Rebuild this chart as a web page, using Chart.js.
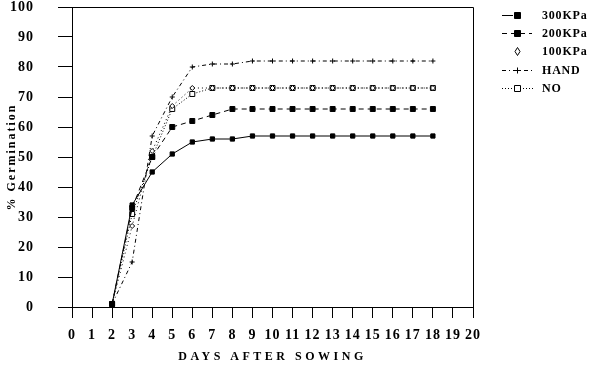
<!DOCTYPE html>
<html>
<head>
<meta charset="utf-8">
<script src="https://cdn.jsdelivr.net/npm/chart.js@4.4.1/dist/chart.umd.min.js"></script>
<style>
html,body{margin:0;padding:0;background:#fff;}
#wrap{width:599px;height:369px;position:relative;}
</style>
</head>
<body>
<div id="wrap"><canvas id="c" width="599" height="369"></canvas></div>
<script>
// ---- data ----
const days   = [2, 3, 4, 5, 6, 7, 8, 9, 10, 11, 12, 13, 14, 15, 16, 17, 18];
const kpa300 = [1, 34, 45, 51, 55, 56, 56, 57, 57, 57, 57, 57, 57, 57, 57, 57, 57];
const kpa200 = [1, 33, 50, 60, 62, 64, 66, 66, 66, 66, 66, 66, 66, 66, 66, 66, 66];
const kpa100 = [1, 27, 52, 67, 73, 73, 73, 73, 73, 73, 73, 73, 73, 73, 73, 73, 73];
const hand   = [1, 15, 57, 70, 80, 81, 81, 82, 82, 82, 82, 82, 82, 82, 82, 82, 82];
const noTreat= [1, 31, 50, 66, 71, 73, 73, 73, 73, 73, 73, 73, 73, 73, 73, 73, 73];
const seriesLabels = ['300KPa', '200KPa', '100KPa', 'HAND', 'NO'];
const xTitle = 'DAYS AFTER SOWING';
const yTitle = '% Germination';

const pts = arr => arr.map((v, i) => ({x: days[i], y: v}));
const FONT = "'Liberation Serif', 'Times New Roman', serif";

const styles = [
  {dash: [],            point: 'rect',    r: 3,   fill: '#000', legendLine: [-15, -4]},
  {dash: [5, 4],        point: 'rect',    r: 3.5, fill: '#000', legendLine: [-15, 15]},
  {dash: [1, 3],        point: 'rectRot', r: 2.5, fill: '#fff', legendLine: null},
  {dash: [4, 3, 1, 3],  point: 'cross',   r: 2.5, fill: '#000', legendLine: [-15, 18]},
  {dash: [1, 2],        point: 'rect',    r: 3.5, fill: '#fff', legendLine: [-15, 18]}
];
const seriesData = [kpa300, kpa200, kpa100, hand, noTreat];

const datasets = seriesData.map((d, i) => ({
  label: seriesLabels[i],
  data: pts(d),
  borderColor: '#000',
  borderWidth: 1,
  borderDash: styles[i].dash,
  pointStyle: styles[i].point,
  pointRadius: styles[i].r,
  pointBorderWidth: 1,
  pointBackgroundColor: styles[i].fill,
  pointBorderColor: '#000',
  fill: false,
  tension: 0
}));

const spacingPlugin = {
  id: 'spacing',
  beforeDraw(chart) {
    const ctx = chart.ctx;
    Object.values(chart.scales).forEach(s => {
      if (s._wrapped) return;
      s._wrapped = true;
      const dl = s.drawLabels.bind(s);
      const dt = s.drawTitle.bind(s);
      s.drawLabels = function(a) { ctx.save(); ctx.letterSpacing = '1px'; dl(a); ctx.restore(); };
      s.drawTitle = function(a) { ctx.save(); ctx.letterSpacing = (s.axis === 'x') ? '3.5px' : '2px'; dt(a); ctx.restore(); };
    });
  }
};

const framePlugin = {
  id: 'frame',
  afterDatasetsDraw(chart) {
    const {ctx, chartArea: a} = chart;
    ctx.save();
    ctx.strokeStyle = '#000';
    ctx.lineWidth = 1;
    ctx.setLineDash([]);
    ctx.beginPath();
    ctx.moveTo(a.left, a.top + 0.5);
    ctx.lineTo(a.right + 0.5, a.top + 0.5);
    ctx.lineTo(a.right + 0.5, a.bottom);
    ctx.stroke();
    ctx.restore();
  }
};

const legendPlugin = {
  id: 'customLegend',
  afterDraw(chart) {
    const {ctx, chartArea: a} = chart;
    ctx.save();
    const mx = a.right + 44, tx = a.right + 69;
    chart.data.datasets.forEach((ds, i) => {
      const y = Math.round(a.top + 8 + i * 18.2);
      const st = styles[i];
      if (st.legendLine) {
        ctx.strokeStyle = '#000';
        ctx.lineWidth = 1;
        ctx.setLineDash(st.dash.length ? st.dash : []);
        ctx.beginPath();
        ctx.moveTo(mx + st.legendLine[0], y + 0.5);
        ctx.lineTo(mx + st.legendLine[1], y + 0.5);
        ctx.stroke();
      }
      ctx.setLineDash([]);
      ctx.lineWidth = 1;
      ctx.fillStyle = st.fill;
      ctx.strokeStyle = '#000';
      ctx.beginPath();
      if (st.point === 'rect') { ctx.rect(mx - 2.5, y - 2.5, 6, 6); ctx.fill(); ctx.stroke(); }
      else if (st.point === 'rectRot') { ctx.moveTo(mx + 0.5, y - 3.5); ctx.lineTo(mx + 3, y + 0.5); ctx.lineTo(mx + 0.5, y + 4.5); ctx.lineTo(mx - 2, y + 0.5); ctx.closePath(); ctx.fill(); ctx.stroke(); }
      else { ctx.moveTo(mx - 2.5, y + 0.5); ctx.lineTo(mx + 3.5, y + 0.5); ctx.moveTo(mx + 0.5, y - 2.5); ctx.lineTo(mx + 0.5, y + 3.5); ctx.stroke(); }
      ctx.fillStyle = '#000';
      ctx.font = 'bold 12px ' + FONT;
      ctx.letterSpacing = '0.8px';
      ctx.textAlign = 'left';
      ctx.textBaseline = 'middle';
      ctx.fillText(ds.label, tx, y + 1);
    });
    ctx.restore();
  }
};

new Chart(document.getElementById('c'), {
  type: 'line',
  data: {datasets},
  options: {
    responsive: false,
    animation: false,
    events: [],
    clip: false,
    layout: {padding: {left: 0, top: 7, right: 126, bottom: 0}},
    plugins: {legend: {display: false}, tooltip: {enabled: false}, title: {display: false}},
    scales: {
      x: {
        type: 'linear', min: 0, max: 20,
        afterFit(s) { s.height = 62; s.paddingLeft = 0; s.paddingRight = 0; },
        ticks: {stepSize: 1, color: '#000', padding: 9, maxRotation: 0, autoSkip: false,
                font: {family: FONT, size: 14, weight: 'bold'}},
        grid: {display: true, drawOnChartArea: false, drawTicks: true, tickLength: 11, color: '#000', tickColor: '#000', tickWidth: 1},
        border: {display: true, color: '#000', width: 1},
        title: {display: true, text: xTitle, color: '#000', padding: {top: 0, bottom: 5},
                font: {family: FONT, size: 12, weight: 'bold'}}
      },
      y: {
        type: 'linear', min: 0, max: 100,
        afterFit(s) { s.width = 72; s.paddingTop = 0; s.paddingBottom = 0; },
        ticks: {stepSize: 10, color: '#000', padding: 24,
                font: {family: FONT, size: 14, weight: 'bold'}},
        grid: {display: true, drawOnChartArea: false, drawTicks: true, tickLength: 14, color: '#000', tickColor: '#000', tickWidth: 1},
        border: {display: true, color: '#000', width: 1},
        title: {display: true, text: yTitle, color: '#000', padding: {top: 5, bottom: 0},
                font: {family: FONT, size: 12, weight: 'bold'}}
      }
    }
  },
  plugins: [spacingPlugin, framePlugin, legendPlugin]
});
</script>
</body>
</html>
